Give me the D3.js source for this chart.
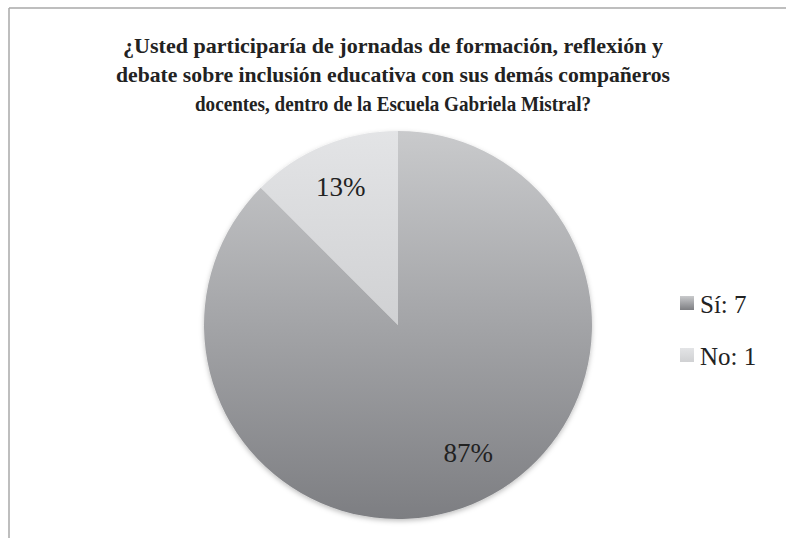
<!DOCTYPE html>
<html>
<head>
<meta charset="utf-8">
<script src="https://cdn.jsdelivr.net/npm/d3@7/dist/d3.min.js"></script>
<style>
  html, body { margin: 0; padding: 0; background: #fff; }
  svg { display: block; }
</style>
</head>
<body>
<script>
const categories = ["Sí", "No"];
const values = [7, 1];
const percentLabels = ["87%", "13%"];
const legendLabels = ["Sí: 7", "No: 1"];
const titleLines = [
  "¿Usted participaría de jornadas de formación, reflexión y",
  "debate sobre inclusión educativa con sus demás compañeros",
  "docentes, dentro de la Escuela Gabriela Mistral?"
];

const W = 786, H = 538;
const svg = d3.select("body").append("svg").attr("width", W).attr("height", H);
const defs = svg.append("defs");

const grads = [
  { id: "g0", top: "#c9cacc", bottom: "#7d7e82" },
  { id: "g1", top: "#e3e4e6", bottom: "#d0d1d3" }
];
grads.forEach(g => {
  const lg = defs.append("linearGradient").attr("id", g.id)
    .attr("x1", 0).attr("y1", 0).attr("x2", 0).attr("y2", 1);
  lg.append("stop").attr("offset", "0%").attr("stop-color", g.top);
  lg.append("stop").attr("offset", "100%").attr("stop-color", g.bottom);
});
const f = defs.append("filter").attr("id", "shadow")
  .attr("x", "-10%").attr("y", "-10%").attr("width", "120%").attr("height", "120%");
f.append("feDropShadow").attr("dx", 0).attr("dy", 2).attr("stdDeviation", 2.5)
  .attr("flood-color", "#000").attr("flood-opacity", 0.25);

// frame
svg.append("line").attr("x1", 9).attr("y1", 8).attr("x2", W).attr("y2", 8)
  .attr("stroke", "#a9a9a9").attr("stroke-width", 1.5);
svg.append("line").attr("x1", 9).attr("y1", 8).attr("x2", 9).attr("y2", H)
  .attr("stroke", "#a9a9a9").attr("stroke-width", 1.5);

// title
const titleWidths = [540, 554, 396];
const title = svg.append("g");
titleLines.forEach((t, i) => {
  title.append("text")
    .attr("x", 393).attr("y", 53 + i * 29)
    .attr("text-anchor", "middle")
    .attr("font-family", "'Liberation Serif', serif")
    .attr("font-weight", "bold")
    .attr("font-size", 22)
    .attr("fill", "#222")
    .attr("textLength", titleWidths[i])
    .attr("lengthAdjust", "spacingAndGlyphs")
    .text(t);
});

// pie
const cx = 398, cy = 325, r = 194;
const pie = d3.pie().sort(null).value(d => d);
const arcs = pie(values);
const arc = d3.arc().innerRadius(0).outerRadius(r);
const labelArc = d3.arc().innerRadius(r * 0.77).outerRadius(r * 0.77);

const g = svg.append("g").attr("transform", `translate(${cx},${cy})`);
const slices = g.append("g").attr("filter", "url(#shadow)");
slices.selectAll("path").data(arcs).enter().append("path")
  .attr("d", arc)
  .attr("fill", (d, i) => `url(#${grads[i].id})`);

g.selectAll("text.pct").data(arcs).enter().append("text")
  .attr("class", "pct")
  .attr("transform", d => {
    const [x, y] = labelArc.centroid(d);
    // Excel-style placement pulls large-slice labels slightly toward the horizontal
    const k = d.endAngle - d.startAngle > Math.PI ? 1 : 0;
    return `translate(${x + k * 13},${y - k * 10})`;
  })
  .attr("text-anchor", "middle")
  .attr("dy", "0.35em")
  .attr("font-family", "'Liberation Serif', serif")
  .attr("font-size", 27)
  .attr("fill", "#222")
  .text((d, i) => percentLabels[i]);

// legend
const legend = svg.append("g").attr("transform", "translate(680,296)");
const item = legend.selectAll("g").data(categories).enter().append("g")
  .attr("transform", (d, i) => `translate(0,${i * 52})`);
item.append("rect").attr("width", 14).attr("height", 14)
  .attr("fill", (d, i) => `url(#${grads[i].id})`);
item.append("text").attr("x", 20).attr("y", 17)
  .attr("font-family", "'Liberation Serif', serif")
  .attr("font-size", 25)
  .attr("fill", "#222")
  .text((d, i) => legendLabels[i]);
</script>
</body>
</html>
